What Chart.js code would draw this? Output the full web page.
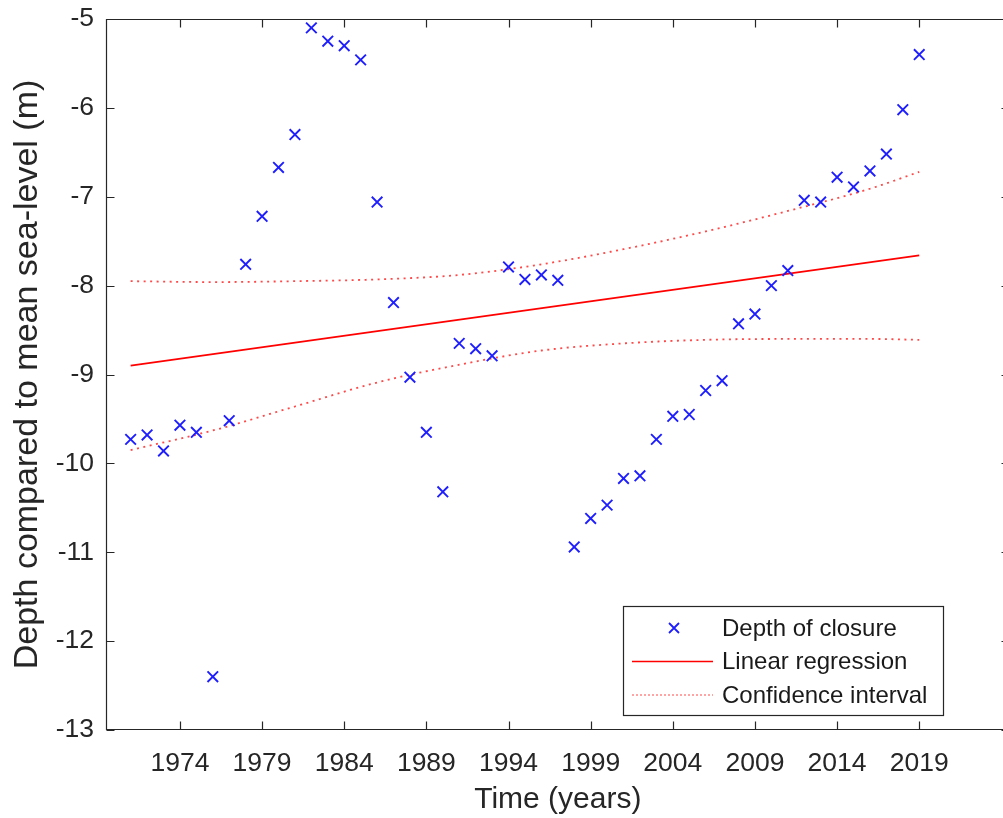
<!doctype html>
<html>
    <head>
        <meta charset="utf-8">
        <script src="https://cdn.jsdelivr.net/npm/chart.js"></script>
        <style>
            body {
                margin: 0px;
                background-color: white;
                overflow: hidden;
            }

            .wrap {
                width: 1100px;
                height: 818px;
            }
        </style>
    </head>
    <body>

        <!-- canvas is a bit wider than the window: the right axis sits just past the edge, like the original -->
        <div class="wrap">
            <canvas id="myChart" width="1011" height="818"></canvas>
        </div>

        <script>
        // measured depth of closure per year (m)
        const years = [1971, 1972, 1973, 1974, 1975, 1976, 1977, 1978, 1979, 1980,
                       1981, 1982, 1983, 1984, 1985, 1986, 1987, 1988, 1989, 1990,
                       1991, 1992, 1993, 1994, 1995, 1996, 1997, 1998, 1999, 2000,
                       2001, 2002, 2003, 2004, 2005, 2006, 2007, 2008, 2009, 2010,
                       2011, 2012, 2013, 2014, 2015, 2016, 2017, 2018, 2019];
        const depth = [-9.73, -9.68, -9.86, -9.57, -9.65, -12.40, -9.52, -7.76, -7.22, -6.67,
                       -6.30, -5.10, -5.25, -5.30, -5.46, -7.06, -8.19, -9.03, -9.65, -10.32,
                       -8.65, -8.71, -8.79, -7.79, -7.93, -7.88, -7.94, -10.94, -10.62, -10.47,
                       -10.17, -10.14, -9.73, -9.47, -9.45, -9.18, -9.07, -8.43, -8.32, -8.00,
                       -7.83, -7.04, -7.06, -6.78, -6.89, -6.71, -6.52, -6.02, -5.40];

        // regression line end points
        const fitYears = [1971, 2019];
        const fitDepth = [-8.90, -7.66];

        // confidence bands
        const ciYears = [1971, 1976, 1981, 1986, 1991, 1996, 2001, 2006, 2011, 2016, 2019];
        const ciUpper = [-7.95, -7.96, -7.95, -7.93, -7.88, -7.76, -7.59, -7.39, -7.16, -6.91, -6.72];
        const ciLower = [-9.85, -9.63, -9.36, -9.09, -8.89, -8.73, -8.65, -8.61, -8.60, -8.60, -8.61];

        const xTicks = [1974, 1979, 1984, 1989, 1994, 1999, 2004, 2009, 2014, 2019];
        const yTicks = [-13, -12, -11, -10, -9, -8, -7, -6, -5];

        const seriesNames = ['Depth of closure', 'Linear regression', 'Confidence interval'];

        const FONT = "'Liberation Sans', Arial, Helvetica, sans-serif";
        const AXIS = '#262626';
        const BLUE = 'rgb(30,30,255)';
        const RED = 'rgb(255,0,0)';
        const RED_DOT = 'rgba(255,40,40,0.85)';

        // wanted right edge of the plot box (just past the window edge)
        const AREA_RIGHT = 1010;

        function pairs(xs, ys) {
            return xs.map((x, i) => ({ x: x, y: ys[i] }));
        }

        // matlab style box with inward ticks on all four sides
        const boxAxes = {
            id: 'boxAxes',
            afterDatasetsDraw(chart) {
                const ctx = chart.ctx;
                const a = chart.chartArea;
                const xs = chart.scales.x;
                const ys = chart.scales.y;
                const len = 8;
                const L = Math.round(a.left) + 0.5, R = Math.round(a.right) - 0.5;
                const T = Math.round(a.top) + 0.5, B = Math.round(a.bottom) - 0.5;
                ctx.save();
                ctx.strokeStyle = AXIS;
                ctx.lineWidth = 1.2;
                ctx.beginPath();
                ctx.rect(L, T, R - L, B - T);
                xTicks.forEach(v => {
                    const px = Math.round(xs.getPixelForValue(v)) + 0.5;
                    ctx.moveTo(px, B); ctx.lineTo(px, B - len);
                    ctx.moveTo(px, T); ctx.lineTo(px, T + len);
                });
                yTicks.forEach(v => {
                    const py = Math.round(ys.getPixelForValue(v)) + 0.5;
                    ctx.moveTo(L, py); ctx.lineTo(L + len, py);
                    ctx.moveTo(R, py); ctx.lineTo(R - len, py);
                });
                ctx.stroke();
                ctx.restore();
            }
        };

        // legend box in the lower right of the plot
        const boxLegend = {
            id: 'boxLegend',
            afterDraw(chart) {
                const ctx = chart.ctx;
                const x0 = 623, y0 = 606, w = 320, h = 109;
                ctx.save();
                ctx.fillStyle = 'white';
                ctx.fillRect(x0, y0, w, h);
                ctx.strokeStyle = AXIS;
                ctx.lineWidth = 1.2;
                ctx.strokeRect(x0 + 0.5, y0 + 0.5, w, h);

                const rows = [628, 661.5, 695];
                // marker
                ctx.strokeStyle = BLUE;
                ctx.lineWidth = 1.8;
                ctx.beginPath();
                ctx.moveTo(669, rows[0] - 5); ctx.lineTo(679, rows[0] + 5);
                ctx.moveTo(679, rows[0] - 5); ctx.lineTo(669, rows[0] + 5);
                ctx.stroke();
                // solid line
                ctx.strokeStyle = RED;
                ctx.lineWidth = 1.6;
                ctx.beginPath();
                ctx.moveTo(632, rows[1]); ctx.lineTo(713, rows[1]);
                ctx.stroke();
                // dotted line
                ctx.strokeStyle = RED_DOT;
                ctx.lineWidth = 1;
                ctx.setLineDash([2, 2]);
                ctx.beginPath();
                ctx.moveTo(632, rows[2]); ctx.lineTo(713, rows[2]);
                ctx.stroke();
                ctx.setLineDash([]);

                ctx.fillStyle = '#1a1a1a';
                ctx.font = '24px ' + FONT;
                ctx.textBaseline = 'middle';
                ctx.textAlign = 'left';
                seriesNames.forEach((t, i) => ctx.fillText(t, 722, rows[i] + 1));
                ctx.restore();
            }
        };

        const myChart = new Chart(document.getElementById('myChart'), {
            type: 'scatter',
            data: {
                datasets: [
                    {
                        label: seriesNames[0],
                        data: pairs(years, depth),
                        showLine: false,
                        pointStyle: 'crossRot',
                        pointRadius: 7.5,
                        pointBorderWidth: 1.9,
                        borderColor: BLUE,
                        backgroundColor: BLUE
                    },
                    {
                        label: seriesNames[1],
                        data: pairs(fitYears, fitDepth),
                        showLine: true,
                        pointRadius: 0,
                        borderColor: RED,
                        borderWidth: 1.8
                    },
                    {
                        label: seriesNames[2],
                        data: pairs(ciYears, ciUpper),
                        showLine: true,
                        pointRadius: 0,
                        borderColor: RED_DOT,
                        borderWidth: 1.8,
                        borderDash: [2, 4.5],
                        cubicInterpolationMode: 'monotone'
                    },
                    {
                        label: seriesNames[2],
                        data: pairs(ciYears, ciLower),
                        showLine: true,
                        pointRadius: 0,
                        borderColor: RED_DOT,
                        borderWidth: 1.8,
                        borderDash: [2, 4.5],
                        cubicInterpolationMode: 'monotone'
                    }
                ]
            },
            options: {
                responsive: false,
                maintainAspectRatio: false,
                animation: false,
                events: [],
                layout: { padding: { top: 19, right: 1, left: 0, bottom: 0 } },
                plugins: {
                    legend: { display: false },
                    tooltip: { enabled: false }
                },
                scales: {
                    x: {
                        type: 'linear',
                        min: 1969.5,
                        max: 2024.5,
                        afterBuildTicks: s => { s.ticks = xTicks.map(v => ({ value: v })); },
                        afterFit: s => {
                            s.height = 88;
                            s.paddingLeft = 0; s.paddingRight = 0;
                            s.paddingTop = 0; s.paddingBottom = 0;
                        },
                        border: { display: false },
                        grid: { display: false, drawTicks: false },
                        ticks: {
                            color: AXIS,
                            font: { family: FONT, size: 26.5 },
                            padding: 18,
                            maxRotation: 0,
                            callback: v => String(v)
                        },
                        title: {
                            display: true,
                            text: 'Time (years)',
                            color: AXIS,
                            font: { family: FONT, size: 30 },
                            padding: { top: 0, bottom: 0 }
                        }
                    },
                    y: {
                        type: 'linear',
                        min: -13,
                        max: -5,
                        afterBuildTicks: s => { s.ticks = yTicks.map(v => ({ value: v })); },
                        afterFit: s => {
                            s.width = 106;
                            s.paddingLeft = 0; s.paddingRight = 0;
                            s.paddingTop = 0; s.paddingBottom = 0;
                        },
                        border: { display: false },
                        grid: { display: false, drawTicks: false },
                        ticks: {
                            color: AXIS,
                            font: { family: FONT, size: 26.5 },
                            padding: 12,
                            callback: v => String(v)
                        },
                        title: {
                            display: true,
                            text: 'Depth compared to mean sea-level (m)',
                            color: AXIS,
                            font: { family: FONT, size: 34 },
                            padding: { top: 7, bottom: 0 }
                        }
                    }
                }
            },
            plugins: [boxAxes, boxLegend]
        });

        // chart.js keeps a few px back on the right; widen the canvas until the box ends where it should
        for (let i = 0; i < 3; i++) {
            const shortBy = Math.round(AREA_RIGHT - myChart.chartArea.right);
            if (shortBy === 0) break;
            myChart.resize(myChart.width + shortBy, 818);
        }
        </script>

    </body>
</html>
